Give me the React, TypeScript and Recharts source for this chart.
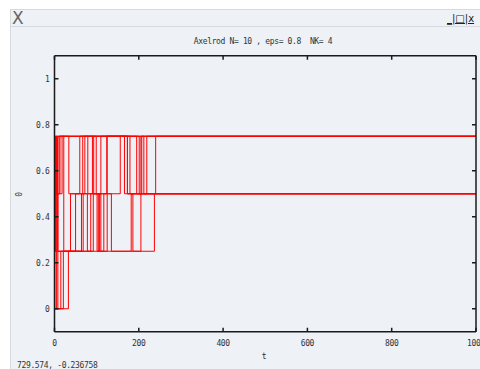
import { LineChart, Line, XAxis, YAxis } from 'recharts';

const T_END = 1000;
const X_TICKS = [0, 200, 400, 600, 800, 1000];
const Y_TICKS = [0, 0.2, 0.4, 0.6, 0.8, 1];

// each agent's opinion, as [t, value] at every switch
const agent0 = [[0, 0], [15, 0.25], [38, 0.5], [60, 0.75], [79, 0.5], [110, 0.75], [173, 0.5], [205, 0.75]];
const agent1 = [[0, 0], [33, 0.25], [50, 0.5], [67, 0.75], [93, 0.5], [124, 0.75], [195, 0.5], [219, 0.75]];
const agent2 = [[0, 0.25], [1, 0], [21, 0.25], [64, 0.5], [72, 0.75], [99, 0.5], [156, 0.75], [212, 0.5], [240, 0.75]];
const agent3 = [[0, 0.5], [2, 0.25], [5, 0], [8, 0.75], [22, 0.25], [68, 0.5], [90, 0.75], [179, 0.5]];
const agent4 = [[0, 0.75], [1, 0.5], [4, 0.25], [6, 0.5], [13, 0.75], [34, 0.5], [78, 0.25], [86, 0.5], [101, 0.25], [125, 0.75]];
const agent5 = [[0, 0.5], [3, 0.75], [5, 0.5], [18, 0.75], [166, 0.5], [186, 0.25], [205, 0.5]];
const agent6 = [[0, 0.25], [2, 0.5], [8, 0.25], [92, 0.5], [104, 0.25], [117, 0.5], [135, 0.25], [182, 0.5]];
const agent7 = [[0, 0.5], [6, 0.25], [107, 0.5], [110, 0.25], [237, 0.5]];
const agent8 = [[0, 0.75], [2, 0.5], [4, 0.75], [201, 0.5], [207, 0.75]];
const agent9 = [[0, 0.5], [1, 0.75], [7, 0.5], [11, 0.75], [173, 0.5]];

const AGENTS = [agent0, agent1, agent2, agent3, agent4, agent5, agent6, agent7, agent8, agent9];

const FONT = '"DejaVu Sans Mono", monospace';
const INK = '#333';
const FRAME = '#1a1a1a';
const BG = '#eef1f6';

// plot box edges, used for the mirrored tick marks on the top and right sides
const PLOT_TOP = 55.75;
const PLOT_RIGHT = 476;

// hold the last value out to the end of the run
const toSeries = (pts: number[][]) => [
  ...pts.map(([t, v]) => ({ t, v })),
  { t: T_END, v: pts[pts.length - 1][1] },
];

const textStyle = { fontFamily: FONT, fontSize: 8, letterSpacing: -0.35, fill: INK };

function BottomTick({ x, y, payload }: any) {
  return (
    <g>
      <line x1={x} y1={y} x2={x} y2={y - 4} stroke={FRAME} strokeWidth={1.5} />
      <line x1={x} y1={PLOT_TOP} x2={x} y2={PLOT_TOP + 4} stroke={FRAME} strokeWidth={1.5} />
      <text x={x} y={y + 14} textAnchor="middle" style={textStyle}>{payload.value}</text>
    </g>
  );
}

function LeftTick({ x, y, payload }: any) {
  return (
    <g>
      <line x1={x} y1={y} x2={x + 4} y2={y} stroke={FRAME} strokeWidth={1.5} />
      <line x1={PLOT_RIGHT} y1={y} x2={PLOT_RIGHT - 4} y2={y} stroke={FRAME} strokeWidth={1.5} />
      <text x={x - 5} y={y + 3} textAnchor="end" style={textStyle}>{payload.value}</text>
    </g>
  );
}

const label = { position: 'absolute' as const, fontFamily: FONT, fontSize: 8, letterSpacing: -0.35, color: INK, whiteSpace: 'pre' as const };

export default function App() {
  return (
    <div style={{ position: 'fixed', left: 0, top: 0, width: 480, height: 369, background: '#fff', overflow: 'hidden' }}>
      <div style={{ position: 'absolute', left: 10, top: 9, right: 0, bottom: 0, background: BG, borderTop: '1px solid #d6dae0', borderLeft: '1px solid #d6dae0' }} />
      <div style={{ position: 'absolute', left: 11, top: 26, right: 0, height: 1, background: '#d6dae0' }} />
      <div style={{ position: 'absolute', left: 12, top: 8, fontFamily: '"DejaVu Sans", sans-serif', fontSize: 17, color: '#666' }}>X</div>
      <div style={{ position: 'absolute', left: 447, top: 13, fontFamily: '"DejaVu Sans", sans-serif', fontSize: 10, color: '#222', textDecoration: 'underline', whiteSpace: 'pre' }}>_|□|x</div>

      <div style={{ ...label, left: 0, width: 526, top: 37, textAlign: 'center' }}>Axelrod N= 10 , eps= 0.8  NK= 4</div>
      <div style={{ ...label, left: 0, width: 528, top: 352, textAlign: 'center' }}>t</div>
      <div style={{ ...label, left: 17, top: 190, transform: 'rotate(-90deg)' }}>0</div>
      <div style={{ ...label, left: 17, top: 361 }}>729.574, -0.236758</div>

      <div style={{ position: 'absolute', left: 0, top: 0 }}>
        <LineChart width={480} height={369} margin={{ top: 54.75, right: 3, bottom: 7.25, left: 10.5 }}>
          <XAxis
            dataKey="t"
            type="number"
            domain={[0, T_END]}
            ticks={X_TICKS}
            allowDataOverflow
            height={30}
            tickSize={0}
            tickMargin={0}
            tickLine={false}
            axisLine={{ stroke: FRAME, strokeWidth: 1.5 }}
            tick={<BottomTick />}
            interval={0}
          />
          <XAxis
            xAxisId="top"
            orientation="top"
            type="number"
            domain={[0, T_END]}
            height={1}
            tickLine={false}
            tick={false}
            axisLine={{ stroke: FRAME, strokeWidth: 1.5 }}
          />
          <YAxis
            type="number"
            domain={[-0.1, 1.1]}
            ticks={Y_TICKS}
            allowDataOverflow
            width={44}
            tickSize={0}
            tickMargin={0}
            tickLine={false}
            axisLine={{ stroke: FRAME, strokeWidth: 1.5 }}
            tick={<LeftTick />}
            interval={0}
          />
          <YAxis
            yAxisId="right"
            orientation="right"
            type="number"
            domain={[-0.1, 1.1]}
            width={1}
            tickLine={false}
            tick={false}
            axisLine={{ stroke: FRAME, strokeWidth: 1.5 }}
          />
          {AGENTS.map((pts, i) => (
            <Line
              key={i}
              data={toSeries(pts)}
              dataKey="v"
              type="stepAfter"
              stroke="#ff0000"
              strokeWidth={1}
              dot={false}
              activeDot={false}
              isAnimationActive={false}
            />
          ))}
        </LineChart>
      </div>
    </div>
  );
}
